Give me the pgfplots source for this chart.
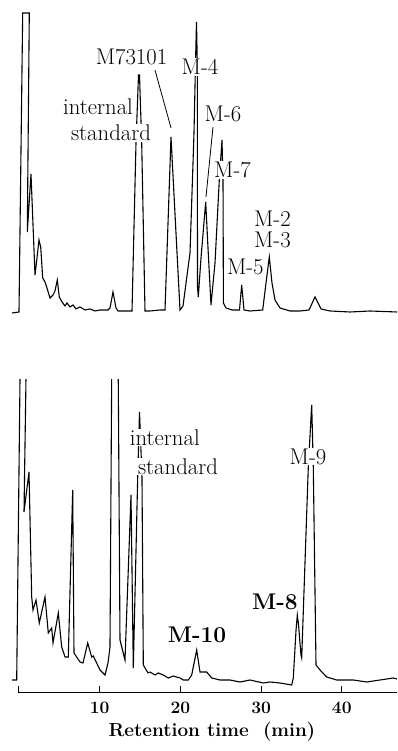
\documentclass[border=0pt]{standalone}
\usepackage{pgfplots}
\pgfplotsset{compat=1.18}
\newcommand\lab{\fontsize{22.8}{25}\selectfont}
\newcommand\tlab{\fontsize{17.5}{20}\selectfont\bfseries}
\begin{document}
\begin{tikzpicture}[x=1bp,y=1bp]
\useasboundingbox (0,0) rectangle (397,751);
% ---------------- upper chromatogram ----------------
\begin{axis}[at={(12bp,433bp)}, anchor=south west, scale only axis,
  width=385bp, height=310bp, xmin=-0.867, xmax=46.84, ymin=-5, ymax=305,
  axis lines=none, clip=false]
\addplot[black, line width=1.1bp] coordinates {
(-0.867,0) (0,1) (0.458,300) (1.276,300) (1.029,81) (1.487,139) (1.983,38)
(2.230,55) (2.478,73) (2.689,66) (2.937,35) (3.222,31) (3.432,26) (3.841,15)
(4.213,18) (4.461,22) (4.746,33) (4.994,16) (5.328,11) (5.700,7) (5.948,10)
(6.320,6) (6.691,8) (7.063,4) (7.559,6) (8.178,3) (8.798,4) (9.418,2)
(10.037,3) (11.028,3) (11.276,5) (11.648,21) (12.020,5) (12.268,2) (13.135,2)
(14.003,2) (14.498,170) (14.808,238) (14.932,238) (15.204,170) (15.613,2)
(16.233,2) (17.472,3) (18.092,3) (18.835,176) (19.950,3) (20.322,7)
(21.190,60) (21.685,180) (21.871,250) (21.995,291) (22.094,250) (22.119,26)
(22.218,16) (22.553,55) (23.135,111) (23.42,65) (23.792,8) (24.288,50)
(24.82,133) (25.155,173) (25.28,133) (25.33,10) (25.651,5) (26.394,3)
(27.323,3) (27.596,28) (27.881,3) (28.625,2) (30.198,3) (30.607,30)
(31.016,56) (31.35,30) (31.722,13) (32.342,5) (33.581,2) (34.82,2)
(35.936,3) (36.679,16) (37.423,4) (38.538,2) (41.016,1) (43.494,2) (46.84,1)
};
\node[font=\lab, fill=white, inner sep=1pt] at (axis cs:13.94,256.5) {M73101};
\draw[line width=0.8bp] (axis cs:16.85,243) -- (axis cs:18.84,185);
\node[font=\lab, fill=white, inner sep=1pt] at (axis cs:9.79,206.5) {internal};
\node[font=\lab, fill=white, inner sep=1pt] at (axis cs:11.4,180) {standard};
\node[font=\lab, fill=white, inner sep=1pt] at (axis cs:22.43,246) {M-4};
\node[font=\lab, inner sep=1pt] at (axis cs:25.28,199.5) {M-6};
\draw[line width=0.8bp] (axis cs:24.04,186) -- (axis cs:23.17,116);
\node[font=\lab, fill=white, inner sep=1pt] at (axis cs:26.46,143) {M-7};
\node[font=\lab, inner sep=1pt] at (axis cs:31.41,94.5) {M-2};
\node[font=\lab, inner sep=1pt] at (axis cs:31.41,73) {M-3};
\node[font=\lab, inner sep=0.5pt] at (axis cs:28.05,46.5) {M-5};
\end{axis}
% ---------------- lower chromatogram ----------------
\begin{axis}[at={(12bp,58bp)}, anchor=south west, scale only axis,
  width=385bp, height=313bp, xmin=-0.867, xmax=46.84, ymin=-13, ymax=300,
  axis x line*=bottom, axis y line=none, x axis line style={draw=none},
  xtick={0,10,20,30,40}, xticklabels={,\textbf{10},\textbf{20},\textbf{30},\textbf{40}},
  tick align=inside, major tick length=7bp, ytick=\empty,
  xtick style={line width=1bp, black},
  xticklabel style={font=\tlab, yshift=-6bp},
  xlabel={Retention time\ \ (min)},
  xlabel style={font=\fontsize{19}{22}\selectfont\bfseries, at={(axis description cs:0.519,0)}, anchor=base, yshift=-43bp},
  clip=true]
\addplot[black, line width=1.1bp] coordinates {
(-0.867,0) (-0.285,0) (0.26,400) (1.05,400) (0.62,168) (1.239,208) (1.574,83)
(1.735,70) (2.107,80) (2.515,57) (3.222,83) (3.631,47) (4.052,52) (4.213,37)
(4.870,67) (5.291,33) (5.700,23) (6.109,23) (6.654,190) (6.815,27) (7.559,18)
(7.931,17) (8.513,37) (9.009,23) (9.207,24) (10.037,10) (10.657,5) (11.028,17)
(11.276,33) (11.56,400) (12.22,400) (12.515,40) (13.135,20) (13.879,185)
(14.164,12) (14.71,203) (14.932,268) (15.24,203) (15.403,15) (15.985,7)
(16.233,8) (16.853,5) (17.262,7) (17.881,5) (18.501,2) (19.120,4) (19.950,2)
(20.359,0) (20.979,0) (21.400,5) (22.020,30) (22.429,8) (23.259,8) (23.879,2)
(24.907,0) (26.146,0) (27.385,-2) (28.625,0) (30.273,-3) (31.103,-2)
(32.342,-3) (33.792,-5) (33.990,2) (34.330,50) (34.486,65) (34.64,55)
(34.94,25) (35.030,22) (35.849,213) (36.270,275) (36.468,213) (36.803,15)
(37.299,10) (38.129,3) (39.368,0) (41.425,0) (43.086,-2) (44.734,0)
(46.382,2) (46.84,1)
};
\end{axis}
\begin{axis}[at={(12bp,58bp)}, anchor=south west, scale only axis,
  width=385bp, height=313bp, xmin=-0.867, xmax=46.84, ymin=-13, ymax=300,
  axis lines=none, clip=false]
\draw[line width=1bp] (axis cs:0,-13) -- (axis cs:46.84,-13);
\node[font=\lab, fill=white, inner sep=1pt] at (axis cs:18.07,242.5) {internal};
\node[font=\lab, fill=white, inner sep=1pt] at (axis cs:19.70,213.5) {standard};
\node[font=\lab\bfseries, inner sep=1pt] at (axis cs:22.06,45) {M-10};
\node[font=\lab\bfseries, inner sep=1pt] at (axis cs:31.72,78.5) {M-8};
\node[font=\lab, fill=white, inner sep=1pt] at (axis cs:35.81,223.5) {M-9};
\end{axis}
\end{tikzpicture}
\end{document}
